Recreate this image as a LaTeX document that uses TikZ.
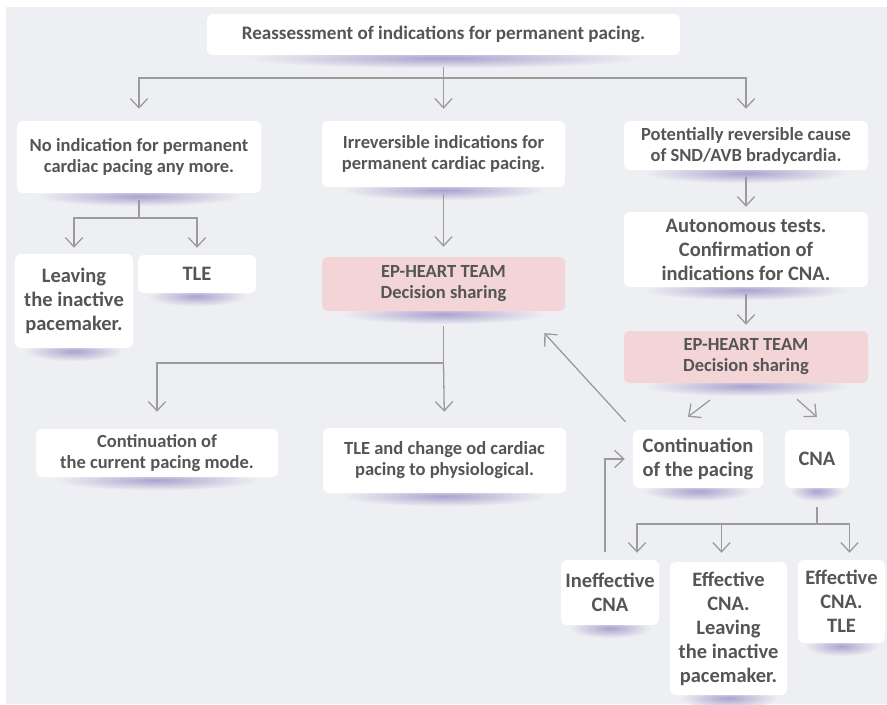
\documentclass[tikz,border=0pt]{standalone}
\usepackage{fontspec}
\setmainfont{Carlito}
\usetikzlibrary{arrows.meta,calc}
\definecolor{bggray}{HTML}{EEEFF2}
\definecolor{txtgray}{HTML}{555555}
\definecolor{linegray}{HTML}{9B9B9B}
\definecolor{pinkfill}{HTML}{F3D4D7}
\definecolor{shadowc}{HTML}{ABA3CF}
\pgfdeclarelayer{background}
\pgfsetlayers{background,main}
\begin{document}
\begin{tikzpicture}[x=0.3mm,y=-0.3mm,
box/.style={fill=white,rounded corners=1.8mm,align=center,text=txtgray,inner sep=1mm,
font=\fontsize{15.8}{18}\selectfont\bfseries},
bigbox/.style={box,font=\fontsize{17.5}{20.5}\selectfont\bfseries},
pinkbox/.style={box,fill=pinkfill},
conn/.style={draw=linegray,line width=1.1pt},
arr/.style={conn,-{Straight Barb[length=2.8mm,width=5.2mm]}}]
\useasboundingbox(0,0)rectangle(887,704);
% boxes
\node[box,font=\fontsize{16.3}{18}\selectfont\bfseries,minimum width=141.9mm,minimum height=12.3mm](top)at(443.5,34.5){Reassessment of indications for permanent pacing.};
\node[box,minimum width=73.2mm,minimum height=21.6mm](nind)at(139,157){No indication for permanent\\cardiac pacing any more.};
\node[box,minimum width=72.9mm,minimum height=19.8mm](irr)at(443.5,154){Irreversible indications for\\permanent cardiac pacing.};
\node[box,minimum width=73.2mm,minimum height=14.7mm](pot)at(746,145.5){Potentially reversible cause\\of SND/AVB bradycardia.};
\node[bigbox,minimum width=35.4mm,minimum height=28.2mm](leave)at(74,301){Leaving\\the inactive\\pacemaker.};
\node[bigbox,minimum width=35.4mm,minimum height=11.4mm](tle1)at(197,274){TLE};
\node[pinkbox,minimum width=72.9mm,minimum height=16.2mm](ep1)at(443.5,284){EP-HEART TEAM\\Decision sharing};
\node[bigbox,minimum width=73.2mm,minimum height=22.5mm](auto)at(746,249.5){Autonomous tests.\\Confirmation of\\indications for CNA.};
\node[pinkbox,minimum width=73.2mm,minimum height=15.6mm](ep2)at(746,357){EP-HEART TEAM\\Decision sharing};
\node[box,minimum width=72.6mm,minimum height=14.4mm](cont)at(157,453){Continuation of\\the current pacing mode.};
\node[box,minimum width=72.9mm,minimum height=19.5mm](tle2)at(444.5,460.5){TLE and change od cardiac\\pacing to physiological.};
\node[bigbox,minimum width=39mm,minimum height=17.4mm](contp)at(698,459){Continuation\\of the pacing};
\node[bigbox,minimum width=19.2mm,minimum height=17.4mm](cna)at(817,459){CNA};
\node[bigbox,minimum width=29.4mm,minimum height=19.5mm](inef)at(610,592.5){Ineffective\\CNA};
\node[bigbox,minimum width=35.1mm,minimum height=39.9mm](eff1)at(728.5,628.5){Effective\\CNA.\\Leaving\\the inactive\\pacemaker.};
\node[bigbox,minimum width=26.1mm,minimum height=24.9mm](eff2)at(841.5,601.5){Effective\\CNA.\\TLE};
% junctions of the bus lines
\coordinate(b1)at(443.5,78);
\coordinate(b2)at(139,218);
\coordinate(b3)at(443.5,363);
\coordinate(b4)at(817,524);
% connectors
\draw[conn,shorten <=3.6mm](top)--(b1);
\draw[arr,shorten >=3.6mm](b1)-|(nind.north);
\draw[arr,shorten >=3.6mm](b1)--(irr.north);
\draw[arr,shorten >=3.6mm](b1)-|(pot.north);
\draw[conn,shorten <=2.1mm](nind)--(b2);
\draw[arr,shorten >=1.8mm](b2)-|(leave.north);
\draw[arr,shorten >=2.1mm](b2)-|(tle1.north);
\draw[arr,shorten <=2.1mm,shorten >=3mm](irr)--(ep1);
\draw[conn,shorten <=4.5mm](ep1)--(b3);
\draw[arr,shorten >=5.1mm](b3)-|(cont.north);
\draw[arr,shorten >=4.8mm](b3)--(tle2.north);
\draw[arr,shorten <=2.1mm,shorten >=1.5mm](pot)--(auto);
\draw[arr,shorten <=2.1mm,shorten >=1.8mm](auto)--(ep2);
\draw[arr,shorten <=8.3mm,shorten >=6.4mm]([xshift=-4.2mm]ep2.south)--([xshift=-8.1mm]contp.north);
\draw[arr,shorten <=7.2mm,shorten >=5.8mm]([xshift=9.9mm]ep2.south)--([xshift=4.3mm]cna.north);
\draw[arr,shorten <=3.2mm,shorten >=8.9mm](contp.north west)--([xshift=-12.3mm]ep1.south east);
\draw[conn,shorten <=5.7mm](cna)--(b4);
\draw[arr,shorten >=2.1mm](b4)-|([xshift=8.1mm]inef.north);
\draw[arr,shorten >=2.7mm](b4)-|([xshift=-2.1mm]eff1.north);
\draw[arr,shorten >=2.1mm](b4)-|([xshift=2.4mm]eff2.north);
\draw[arr,shorten <=2.4mm,shorten >=2.4mm]([xshift=-1.5mm]inef.north)|-(contp.west);
% backdrop and soft shadows under the boxes
\begin{pgfonlayer}{background}
\fill[bggray](6,7)rectangle(887,704);
\foreach \b in{top,nind,irr,pot,leave,tle1,ep1,auto,ep2,cont,tle2,contp,cna,inef,eff1,eff2}
\shade[inner color=shadowc,outer color=bggray]let \p1=($(\b.east)-(\b.west)$)in
([yshift=-0.9mm]\b.south)ellipse[x radius=0.42*\x1,y radius=3mm];
\end{pgfonlayer}
\end{tikzpicture}
\end{document}
